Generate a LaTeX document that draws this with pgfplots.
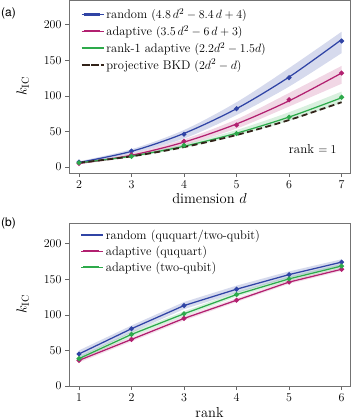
\documentclass[border=0pt]{standalone}
\usepackage{fontspec}
\newfontfamily\helv{TeX Gyre Heros}
\usepackage{pgfplots}
\pgfplotsset{compat=1.18}
\usepgfplotslibrary{fillbetween}

\definecolor{cblue}{RGB}{48,68,165}
\definecolor{cpink}{RGB}{178,32,112}
\definecolor{cgreen}{RGB}{45,170,75}
\definecolor{cdash}{RGB}{50,35,25}

\pgfplotsset{
  panel/.style={
    scale only axis, width=281pt,
    axis line style={black!55},
    tick align=outside, xtick pos=bottom, ytick pos=left,
    major tick length=4pt,
    tick style={black!60, line width=0.6pt},
    ticklabel style={font=\fontsize{13}{15}\selectfont},
    label style={font=\fontsize{14.5}{17}\selectfont},
    ylabel style={at={(axis description cs:-0.164,0.5)}, anchor=center},
    legend style={draw=none, fill=none, font=\fontsize{12.5}{15}\selectfont,
      anchor=north west, row sep=1.2pt, cells={anchor=west}},
    legend image post style={mark=none},
    legend image code/.code={\draw[#1, mark=none, line width=2.4pt] (0pt,0pt) -- (16pt,0pt); \path (-2pt,0pt) -- (20pt,0pt);},
    every axis plot/.append style={line width=1.25pt},
  },
}

\begin{document}
\begin{tikzpicture}

% ---- panel (a)
\begin{axis}[panel,
  at={(69pt,0pt)}, anchor=north west,
  height=173pt,
  xmin=1.81, xmax=7.16, ymin=-8.4, ymax=234.6,
  xtick={2,...,7}, ytick={0,50,...,200},
  xlabel={dimension $d$}, ylabel={$k_{\mathrm{IC}}$},
  xlabel style={at={(axis description cs:0.5,-0.175)}, anchor=base},
  legend style={at={(0.03,0.975)}},
]
% bands
\addplot[name path=bu, draw=none, forget plot, smooth] coordinates {(2,8) (3,25) (4,52) (5,91) (6,139) (7,190)};
\addplot[name path=bl, draw=none, forget plot, smooth] coordinates {(2,5) (3,19) (4,40) (5,73) (6,113) (7,160)};
\addplot[cblue, fill opacity=0.2, draw=none, forget plot] fill between[of=bu and bl];
\addplot[name path=pu, draw=none, forget plot, smooth] coordinates {(2,6) (3,19) (4,39) (5,67) (6,104) (7,142)};
\addplot[name path=pl, draw=none, forget plot, smooth] coordinates {(2,4) (3,14) (4,31) (5,54) (6,85) (7,117)};
\addplot[cpink, fill opacity=0.18, draw=none, forget plot] fill between[of=pu and pl];
\addplot[name path=gu, draw=none, forget plot, smooth] coordinates {(2,7) (3,17) (4,32) (5,52) (6,77) (7,106)};
\addplot[name path=gl, draw=none, forget plot, smooth] coordinates {(2,5) (3,13.5) (4,27) (5,44) (6,65) (7,90)};
\addplot[cgreen, fill opacity=0.18, draw=none, forget plot] fill between[of=gu and gl];

% fitted curves
\addplot[cblue, smooth, no marks] coordinates {(2,6.4) (3,22) (4,47.2) (5,82) (6,126.4) (7,179)};
\addlegendentry{random $(4.8\,d^2-8.4\,d+4)$}
\addplot[cpink, smooth, no marks] coordinates {(2,5) (3,16.5) (4,35) (5,60.5) (6,93) (7,132)};
\addlegendentry{adaptive $(3.5\,d^2-6\,d+3)$}
\addplot[cgreen, smooth, no marks] coordinates {(2,5.8) (3,15.3) (4,29.2) (5,47.5) (6,70.2) (7,97.3)};
\addlegendentry{rank-1 adaptive $(2.2d^2-1.5d)$}
\addplot[cdash, smooth, no marks, line width=1.8pt, dash pattern=on 6pt off 3.5pt] coordinates {(2,6) (3,15) (4,28) (5,45) (6,66) (7,91)};
\addlegendentry{projective BKD $(2d^2-d)$}

% data points
\addplot[cblue, only marks, mark=*, mark size=1.8pt, forget plot] coordinates {(2,7) (3,22.5) (4,46) (5,82) (6,125.5) (7,177)};
\addplot[cpink, only marks, mark=*, mark size=1.8pt, forget plot] coordinates {(2,5) (3,17) (4,36) (5,59) (6,94.5) (7,132)};
\addplot[cgreen, only marks, mark=*, mark size=1.8pt, forget plot] coordinates {(2,6) (3,15) (4,30.5) (5,47) (6,70) (7,98)};

\node[anchor=east, font=\fontsize{13}{15}\selectfont] at (rel axis cs:0.965,0.14) {rank $=1$};
\end{axis}

% ---- panel (b)
\begin{axis}[panel,
  at={(69pt,-223pt)}, anchor=north west,
  height=163pt,
  xmin=0.81, xmax=6.16, ymin=0, ymax=229,
  xtick={1,...,6}, ytick={0,50,...,200},
  xlabel={rank}, ylabel={$k_{\mathrm{IC}}$},
  xlabel style={at={(axis description cs:0.5,-0.196)}, anchor=base},
  legend style={at={(0.03,0.985)}},
]
\addplot[name path=rbu, draw=none, forget plot] coordinates {(1,50) (2,85) (3,118) (4,141) (5,161) (6,178)};
\addplot[name path=rbl, draw=none, forget plot] coordinates {(1,40) (2,75) (3,108) (4,131) (5,152) (6,169)};
\addplot[cblue, fill opacity=0.2, draw=none, forget plot] fill between[of=rbu and rbl];
\addplot[name path=rgu, draw=none, forget plot] coordinates {(1,41.5) (2,76) (3,105) (4,132) (5,154) (6,171.5)};
\addplot[name path=rgl, draw=none, forget plot] coordinates {(1,35.5) (2,69) (3,98) (4,125.5) (5,147.5) (6,165.5)};
\addplot[cgreen, fill opacity=0.18, draw=none, forget plot] fill between[of=rgu and rgl];
\addplot[name path=rpu, draw=none, forget plot] coordinates {(1,39) (2,68.5) (3,98) (4,123.5) (5,148.5) (6,166.5)};
\addplot[name path=rpl, draw=none, forget plot] coordinates {(1,33) (2,62.5) (3,92) (4,118) (5,143.5) (6,161.5)};
\addplot[cpink, fill opacity=0.15, draw=none, forget plot] fill between[of=rpu and rpl];

\addplot[cblue, mark=*, mark size=1.8pt] coordinates {(1,45) (2,80.5) (3,113) (4,136) (5,156.5) (6,174)};
\addlegendentry{random (ququart/two-qubit)}
\addplot[cpink, mark=*, mark size=1.8pt] coordinates {(1,36) (2,65.5) (3,95) (4,120.5) (5,146) (6,164)};
\addlegendentry{adaptive (ququart)}
\addplot[cgreen, mark=*, mark size=1.8pt] coordinates {(1,38.5) (2,72.5) (3,101.5) (4,128.5) (5,150.5) (6,168.5)};
\addlegendentry{adaptive (two-qubit)}
\end{axis}

\node[anchor=north west, inner sep=0pt, font=\helv\fontsize{12}{14}\selectfont] at (1pt,-8pt) {(a)};
\node[anchor=north west, inner sep=0pt, font=\helv\fontsize{12}{14}\selectfont] at (1pt,-218pt) {(b)};
\pgfresetboundingbox
\useasboundingbox (0pt,0pt) rectangle (353pt,-420pt);
\end{tikzpicture}
\end{document}
